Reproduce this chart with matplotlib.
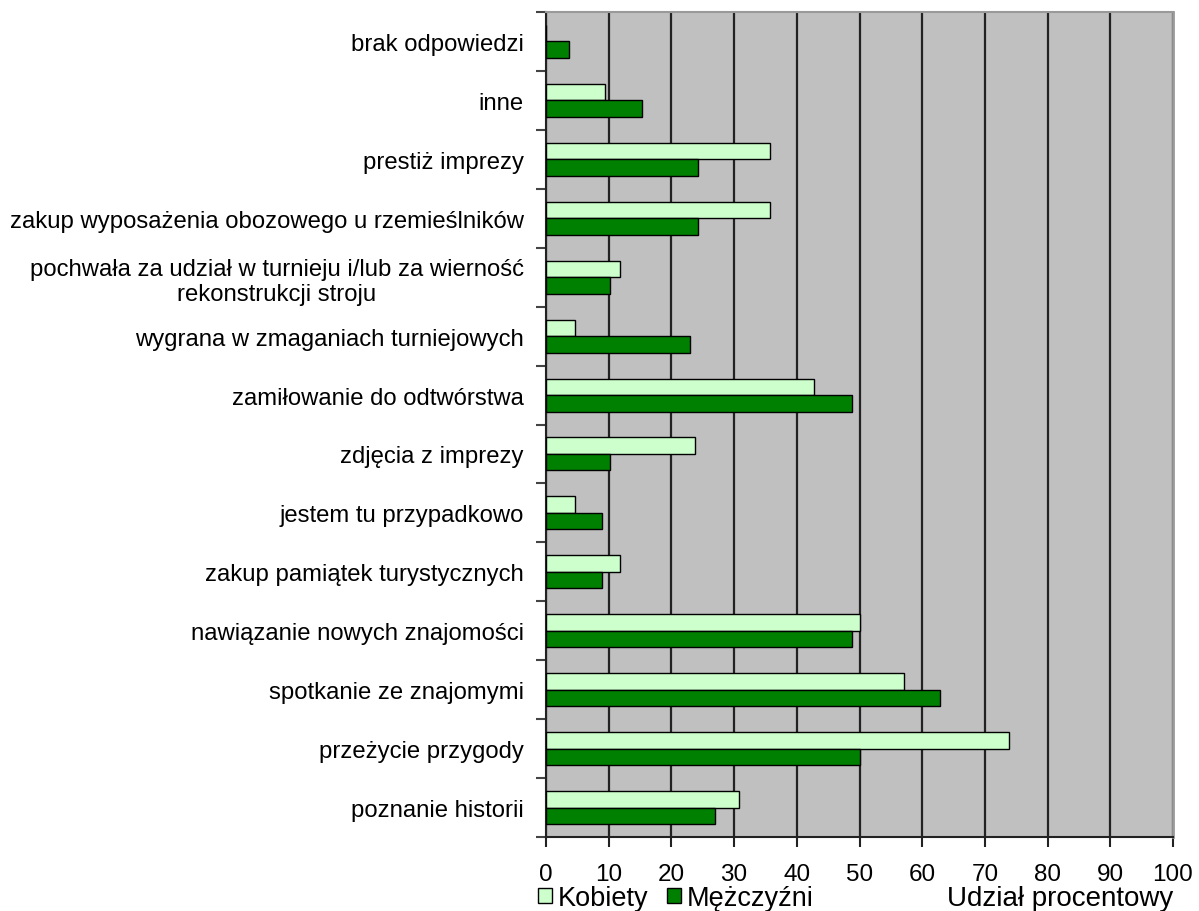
import matplotlib
matplotlib.use("Agg")
import matplotlib.pyplot as plt
import numpy as np
from matplotlib.patches import Patch

plt.rcParams['font.family'] = ['Liberation Sans', 'DejaVu Sans']

categories = [
    "brak odpowiedzi",
    "inne",
    "prestiż imprezy",
    "zakup wyposażenia obozowego u rzemieślników",
    "pochwała za udział w turnieju i/lub za wierność\nrekonstrukcji stroju",
    "wygrana w zmaganiach turniejowych",
    "zamiłowanie do odtwórstwa",
    "zdjęcia z imprezy",
    "jestem tu przypadkowo",
    "zakup pamiątek turystycznych",
    "nawiązanie nowych znajomości",
    "spotkanie ze znajomymi",
    "przeżycie przygody",
    "poznanie historii",
]
kobiety = [0, 9.4, 35.7, 35.7, 11.8, 4.7, 42.8, 23.7, 4.7, 11.8, 50.0, 57.1, 73.8, 30.8]
mezczyzni = [3.7, 15.3, 24.2, 24.2, 10.2, 23.0, 48.8, 10.2, 8.9, 8.9, 48.8, 62.8, 50.0, 27.0]
xticks = list(range(0, 101, 10))
series_names = ["Kobiety", "Mężczyźni"]
x_title = "Udział procentowy"

fig = plt.figure(figsize=(11.99, 9.12), dpi=100)
ax = fig.add_axes([546/1199, 1 - 838/912, (1173-546)/1199, (838-13)/912])
ax.set_facecolor('#C0C0C0')

y = np.arange(len(categories))
h = 0.28
light = '#CCFFCC'
dark = '#008000'
ax.barh(y - h/2, kobiety, height=h, color=light, edgecolor='black', linewidth=1.0, zorder=3)
ax.barh(y + h/2, mezczyzni, height=h, color=dark, edgecolor='black', linewidth=1.0, zorder=3)

ax.set_ylim(len(categories) - 0.5, -0.5)
ax.set_xlim(0, 100)
ax.set_xticks(xticks)
ax.set_xticklabels([str(v) for v in xticks], fontsize=17.5)
ax.xaxis.grid(True, color='#222222', linewidth=1.6, zorder=1)
ax.set_axisbelow(True)

ax.set_yticks(y)
ax.set_yticklabels(categories, fontsize=17.2, multialignment='center')
ax.tick_params(axis='y', length=0, pad=16)
ax.set_yticks(np.arange(len(categories) + 1) - 0.5, minor=True)
ax.tick_params(axis='y', which='minor', length=7, width=1.5, color='#444444', direction='out')
ax.tick_params(axis='x', length=7, width=1.5, color='#222222', direction='out', pad=12)

ax.spines['left'].set_color('#222222')
ax.spines['left'].set_linewidth(1.5)
ax.spines['bottom'].set_color('#222222')
ax.spines['bottom'].set_linewidth(1.5)
ax.spines['top'].set_color('#999999')
ax.spines['top'].set_linewidth(1.5)
ax.spines['right'].set_color('#999999')
ax.spines['right'].set_linewidth(2)

handles = [Patch(facecolor=light, edgecolor='black', label=series_names[0]),
           Patch(facecolor=dark, edgecolor='black', label=series_names[1])]
fig.legend(handles=handles, loc='center left', bbox_to_anchor=(538/1199, 1 - 899/912), ncol=2,
           frameon=False, fontsize=19.5, handlelength=0.5, handleheight=0.5,
           handletextpad=0.22, columnspacing=0.7, borderaxespad=0, borderpad=0)

fig.text(1173/1199, 1 - 906/912, x_title, ha='right', va='baseline', fontsize=20)

fig.savefig('out.png', dpi=100)
